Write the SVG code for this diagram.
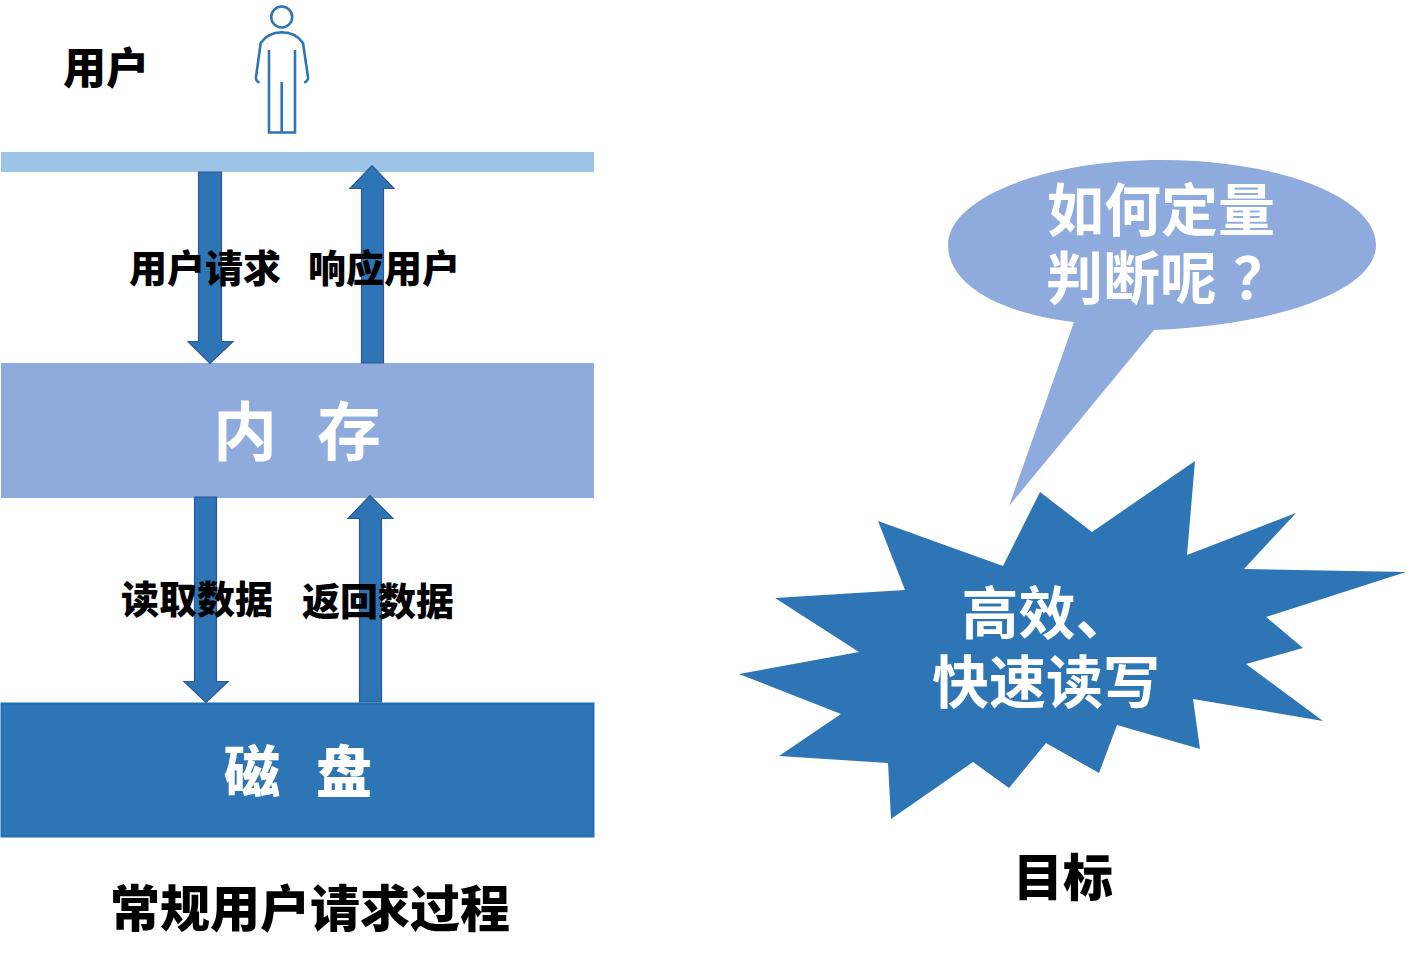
<svg xmlns="http://www.w3.org/2000/svg" width="1410" height="968" viewBox="0 0 1410 968">
<style>
text{font-family:"Noto Sans CJK SC","Liberation Sans",sans-serif;font-weight:700;text-anchor:middle}
.k{fill:#000;font-weight:900}.w{fill:#fff}
.arrow{fill:#2E75B6;stroke:#2F5597;stroke-width:1.2}
.p{fill:none;stroke:#2E75B6;stroke-width:2.6}
</style>
<rect width="1410" height="968" fill="#fff"/>
<g id="bar-user"><rect x="1" y="152" width="593" height="20" fill="#9DC3E6"/></g>
<g id="memory"><rect x="1" y="363" width="593" height="135" fill="#8FAADC"/><text class="w" y="455" font-size="64"><tspan x="245">内</tspan><tspan x="349">存</tspan></text></g>
<g id="disk"><rect x="1.5" y="703.5" width="592" height="133" fill="#2E75B6" stroke="#1F6FB5" stroke-width="2"/><text class="w" y="792" font-size="56" style="font-weight:900"><tspan x="252">磁</tspan><tspan x="344">盘</tspan></text></g>
<g id="connectors">
<path class="arrow" d="M198.500 172H221.500V341.500H233L210 363.500L188 341.500H198.500Z"/>
<path class="arrow" d="M361.500 363V188.500H350L372 165.500L394 188.500H383.500V363Z"/>
<path class="arrow" d="M194.500 497H216.500V681.500H228L206 702.500L184 681.500H194.500Z"/>
<path class="arrow" d="M359.500 702V518.500H348L370 495.500L393 518.500H381.500V702Z"/>
</g>
<g id="person" class="p">
<circle cx="281.7" cy="17" r="10.5"/>
<path d="M259.5 82.5Q255.5 81 256 77L260.7 43Q268 32.5 281.7 32.3Q296 32.5 303 43L308 77Q308.500 81 304 82.5"/>
<path d="M269 50V132.500H295V50M281.700 82V132.500"/>
</g>
<g id="label-user"><text class="k" x="106" y="84" font-size="43">用户</text></g>
<g id="label-request"><text class="k" x="205" y="282" font-size="38">用户请求</text></g>
<g id="label-response"><text class="k" x="384" y="282" font-size="38">响应用户</text></g>
<g id="label-read"><text class="k" x="197" y="613" font-size="38">读取数据</text></g>
<g id="label-return"><text class="k" x="378" y="615" font-size="38">返回数据</text></g>
<g id="title-left"><text class="k" x="310" y="927" font-size="50">常规用户请求过程</text></g>
<g id="callout">
<path fill="#8FAADC" d="M1074 322C990 312 948 280 948 245C948 198 1044 160 1162 160C1280 160 1376 198 1376 245C1376 290 1280 325 1154 330L1009 506Z"/>
<text class="w" x="1161" y="231" font-size="57">如何定量</text>
<text class="w" x="1046" y="299" font-size="57" style="text-anchor:start">判断呢<tspan dx="16">？</tspan></text>
</g>
<g id="burst">
<path fill="#2E75B6" d="M1195 461L1187 555L1296 513L1244 569L1406 572L1266 617L1303 648L1246 664L1323 721L1193 699L1200 749L1117 725L1099 773L1046 743L1009 788L973 762L891 819L888 763L779 756L841 714L739 674L859 652L775 598L905 590L878 521L1003 566L1040 492L1092 532Z"/>
<text class="w" x="1047" y="634" font-size="57">高效、</text>
<text class="w" x="1046" y="703" font-size="57">快速读写</text>
</g>
<g id="title-right"><text class="k" x="1063" y="896" font-size="50">目标</text></g>
</svg>
